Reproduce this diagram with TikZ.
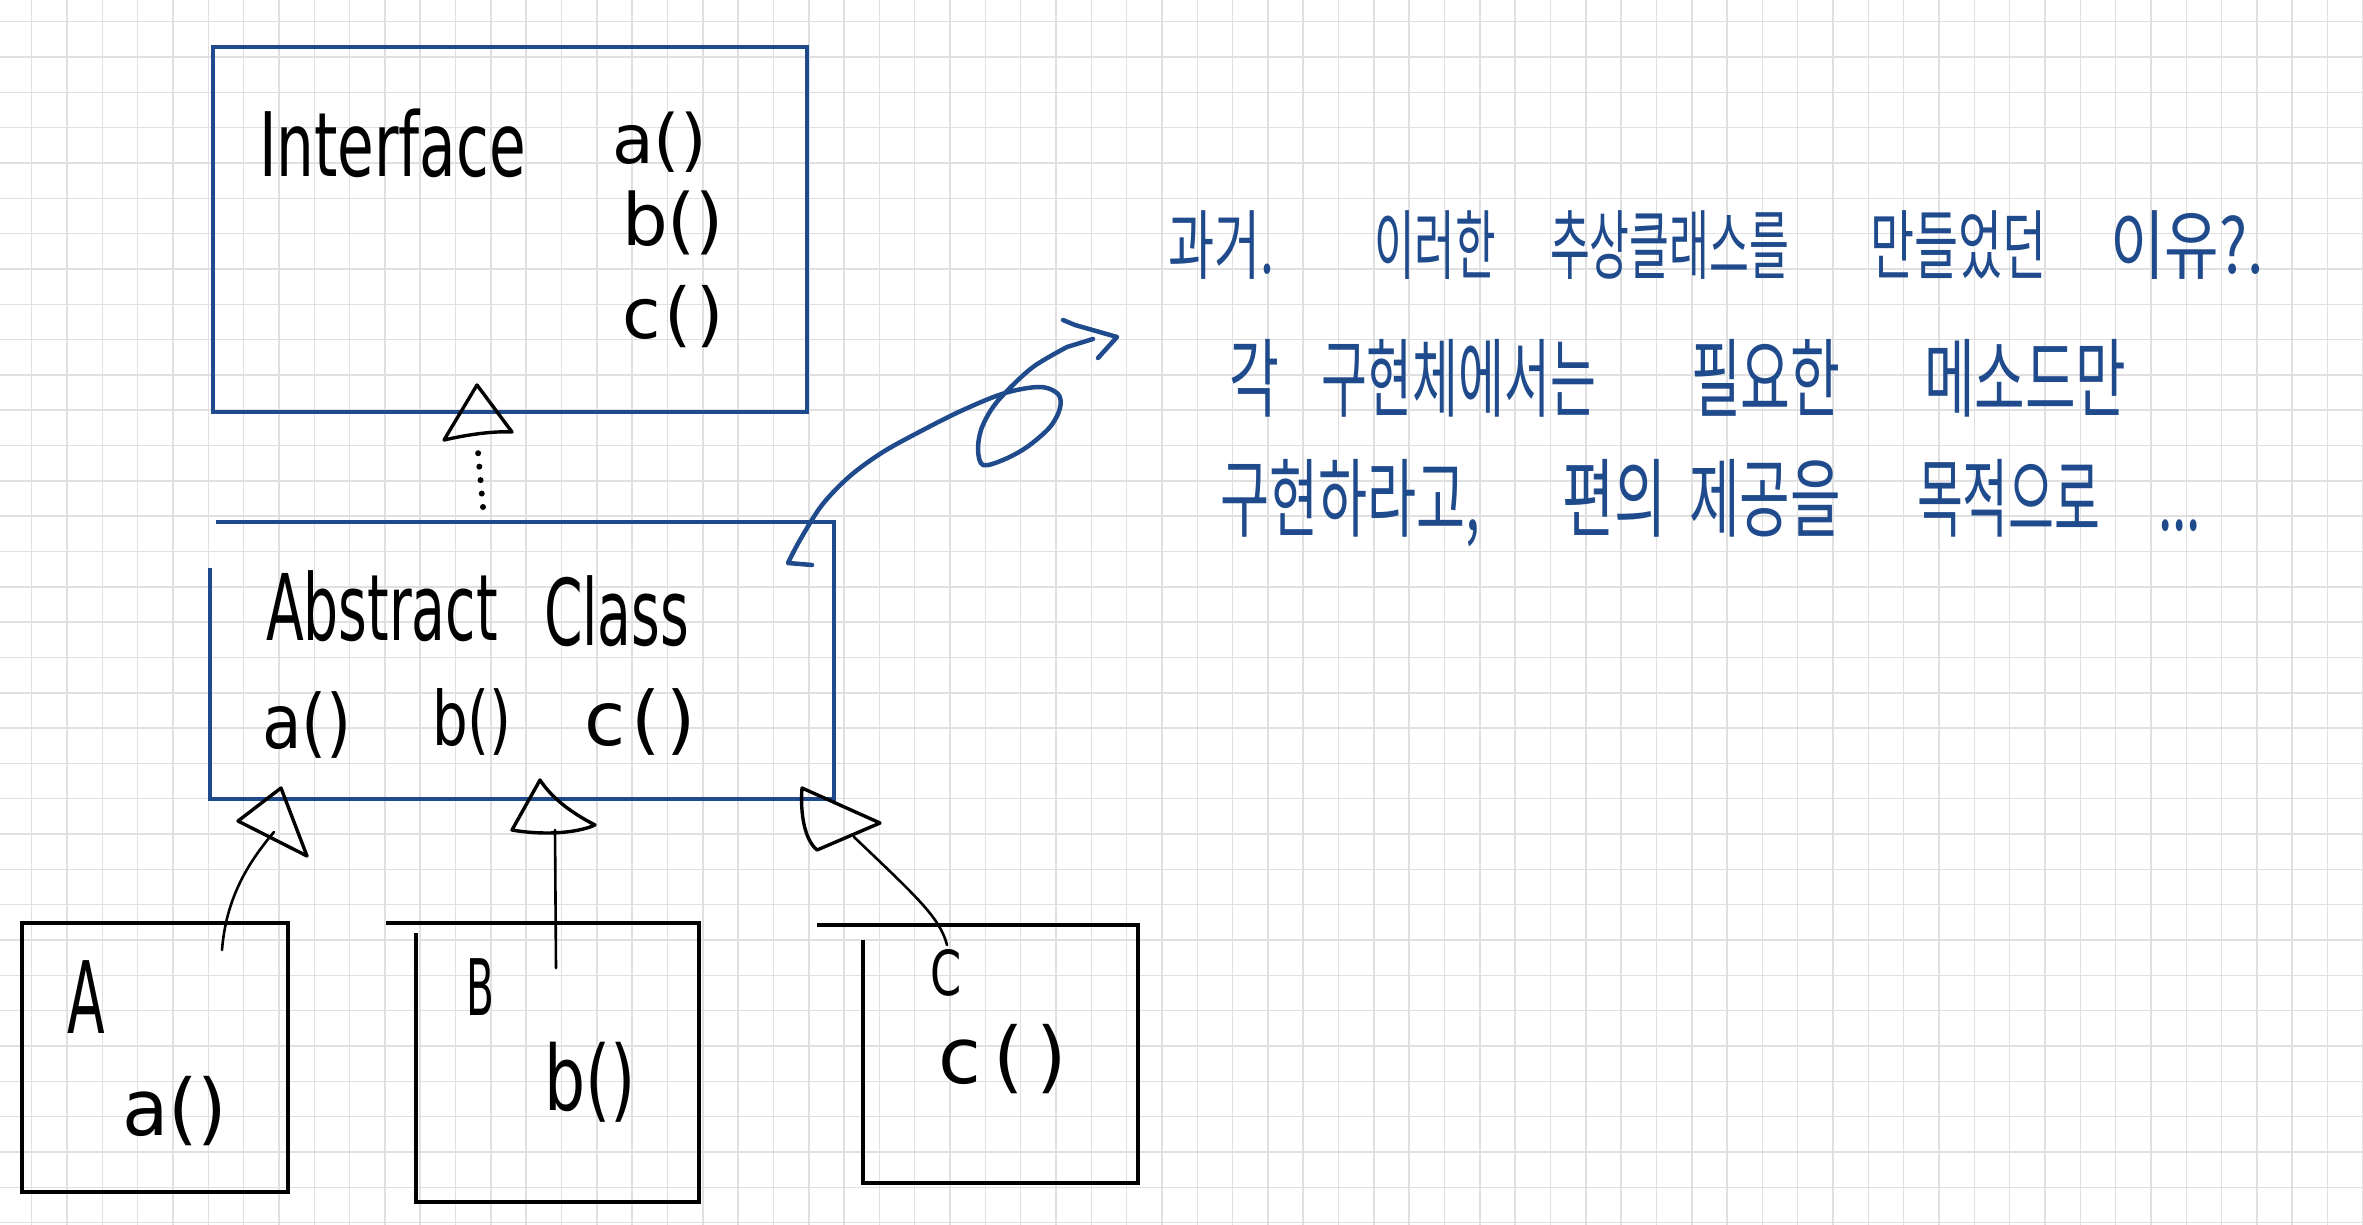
\documentclass[tikz,border=0pt]{standalone}
\usepackage{fontspec}
\setmainfont{DejaVu Sans}
\newfontfamily\kr{Noto Sans CJK KR}
\usepackage{graphicx}
\usetikzlibrary{calc}
\definecolor{penblue}{RGB}{31,74,140}
\newcommand{\hsq}[2]{\scalebox{#1}[1]{#2}}
\begin{document}
\begin{tikzpicture}[x=1pt,y=-1pt,
  gridline/.style={draw=black!12, line width=1.5pt},
  frame/.style={inner sep=0pt, outer sep=0pt},
  bluebox/.style={draw=penblue, line width=4.5pt, line join=miter},
  blackbox/.style={draw=black, line width=4pt, line join=miter},
  bluepen/.style={draw=penblue, line width=4.5pt, line cap=round, line join=round},
  link/.style={draw=black, line width=2.6pt, line cap=round, line join=round},
  head/.style={draw=black, line width=3.4pt, line cap=round, line join=round},
  dotline/.style={draw=black, line width=6pt, line cap=round, dash pattern=on 0pt off 13.5pt},
  lbl/.style={anchor=base west, inner sep=0pt, outer sep=0pt, text=black},
  krA/.style={anchor=base west, inner sep=0pt, outer sep=0pt, text=penblue, font=\kr\fontsize{76pt}{78pt}\selectfont},
  krB/.style={anchor=base west, inner sep=0pt, outer sep=0pt, text=penblue, font=\kr\fontsize{86pt}{88pt}\selectfont},
]
% page
\fill[white] (0,0) rectangle (2363,1225);
\useasboundingbox (0,0) rectangle (2363,1225);
% grid paper
\foreach \i [evaluate=\i as \gx using 31.7+35.32*\i] in {0,...,66}
  \draw[gridline] (\gx,0) -- (\gx,1225);
\foreach \j [evaluate=\j as \gy using 21.7+35.32*\j] in {0,...,34}
  \draw[gridline] (0,\gy) -- (2363,\gy);

% ---------- boxes (frames) ----------
\node[frame, minimum width=594pt, minimum height=365pt] (iface) at (510,229.5) {};
\node[frame, minimum width=624pt, minimum height=277pt] (abs) at (522,660.5) {};
\node[frame, minimum width=266pt, minimum height=269pt] (boxA) at (155,1057.5) {};
\node[frame, minimum width=283pt, minimum height=279pt] (boxB) at (557.5,1062.5) {};
\node[frame, minimum width=275pt, minimum height=258pt] (boxC) at (1000.5,1054) {};

\draw[bluebox] (iface.north west) rectangle (iface.south east);
\draw[bluebox] ($(abs.north west)+(6,0)$) -- (abs.north east) -- (abs.south east)
  -- (abs.south west) -- ($(abs.north west)+(0,46)$);
\draw[blackbox] (boxA.north west) rectangle (boxA.south east);
\draw[blackbox] ($(boxB.north west)+(-30,0)$) -- (boxB.north east) -- (boxB.south east)
  -- (boxB.south west) -- ($(boxB.north west)+(0,10)$);
\draw[blackbox] ($(boxC.north west)+(-46,0)$) -- (boxC.north east) -- (boxC.south east)
  -- (boxC.south west) -- ($(boxC.north west)+(0,15)$);

% ---------- texts ----------
\node[lbl, font=\fontsize{89pt}{90pt}\selectfont] (tIface) at (259,177) {\hsq{0.67}{Interface}};
\node[lbl, font=\fontsize{68pt}{68pt}\selectfont] (tIa) at (612,164) {a()};
\node[lbl, font=\fontsize{72pt}{72pt}\selectfont] (tIb) at (622,245) {b()};
\node[lbl, font=\fontsize{70pt}{70pt}\selectfont] (tIc) at (622,338) {c\kern0.06em(\kern0.06em)};

\node[lbl, font=\fontsize{92pt}{92pt}\selectfont] (tAbs) at (266,640) {\hsq{0.6}{Abstract}};
\node[lbl, font=\fontsize{92pt}{92pt}\selectfont] (tCls) at (544,645) {\hsq{0.6}{Class}};
\node[lbl, font=\fontsize{75pt}{75pt}\selectfont] (tAa) at (262,748) {\hsq{0.86}{a()}};
\node[lbl, font=\fontsize{75pt}{75pt}\selectfont] (tAb) at (432,745) {\hsq{0.75}{b()}};
\node[lbl, font=\fontsize{75pt}{75pt}\selectfont] (tAc) at (584,745) {c\kern0.08em(\kern0.08em)};

\node[lbl, font=\fontsize{100pt}{100pt}\selectfont] (tA) at (67,1033) {\hsq{0.55}{A}};
\node[lbl, font=\fontsize{78pt}{78pt}\selectfont] (tAm) at (122,1135) {\hsq{0.97}{a()}};
\node[lbl, font=\fontsize{78pt}{78pt}\selectfont] (tB) at (466,1015) {\hsq{0.52}{B}};
\node[lbl, font=\fontsize{90pt}{90pt}\selectfont] (tBm) at (544,1110) {\hsq{0.72}{b()}};
\node[lbl, font=\fontsize{62pt}{62pt}\selectfont] (tC) at (930,995) {\hsq{0.72}{C}};
\node[lbl, font=\fontsize{78pt}{78pt}\selectfont] (tCm) at (938,1083) {c\kern0.16em(\kern0.16em)};

% Korean notes
\node[krA] (k11) at (1168,273) {\hsq{0.66}{과거.}};
\node[krA] (k12) at (1374,273) {\hsq{0.58}{이러한}};
\node[krA] (k13) at (1550,273) {\hsq{0.57}{추상클래스를}};
\node[krA] (k14) at (1870,273) {\hsq{0.63}{만들었던}};
\node[krA] (k15) at (2110,273) {\hsq{0.78}{이유?.}};

\node[krB] (k21) at (1229,410) {\hsq{0.63}{각}};
\node[krB] (k22) at (1321,410) {\hsq{0.58}{구현체에서는}};
\node[krB] (k23) at (1691,410) {\hsq{0.63}{필요한}};
\node[krB] (k24) at (1924,410) {\hsq{0.64}{메소드만}};

\node[krB] (k31) at (1220,530) {\hsq{0.62}{구현하라고,}};
\node[krB] (k32) at (1562,530) {\hsq{0.66}{편의}};
\node[krB] (k33) at (1689,530) {\hsq{0.64}{제공을}};
\node[krB] (k34) at (1917,530) {\hsq{0.58}{목적으로}};
\node[krB] (k35) at (2158,530) {\hsq{0.60}{...}};

% ---------- connectors ----------
% Abstract class ..> Interface (realization)
\coordinate (absTop) at (483,507);
\coordinate (ifTri) at (478,452);
\draw[dotline] (absTop) -- (ifTri);
\draw[head] (477,385) -- (444,440) .. controls (470,434) and (495,431) .. (512,432) -- cycle;

% A -> Abstract
\coordinate (aStart) at (222,950);
\coordinate (aEnd) at (274,832);
\draw[link] (aStart) .. controls (226,900) and (246,865) .. (aEnd);
\draw[head] (281,788) -- (238,821) -- (307,856) -- cycle;

% B -> Abstract
\coordinate (bStart) at (556,968);
\coordinate (bEnd) at (555,830);
\draw[link] (bStart) -- (bEnd);
\draw[head] (540,780) -- (512,830) .. controls (540,835) and (575,834) .. (595,825)
  .. controls (570,812) and (552,798) .. cycle;

% C -> Abstract
\coordinate (cStart) at (947,945);
\coordinate (cEnd) at (854,837);
\draw[link] (cStart) .. controls (940,918) and (918,898) .. (cEnd);
\draw[head] (802,788) .. controls (800,815) and (805,840) .. (817,850) -- (880,823) -- cycle;

% blue note arrow from Abstract class to the text
\coordinate (nStart) at (812,565);
\coordinate (nEnd) at (1093,339);
\draw[bluepen] (nStart) -- plot[smooth, tension=0.55] coordinates {
  (788,563) (800,540) (822,505) (850,476) (883,452) (923,430) (963,410)
  (1005,393) (1040,387) (1058,394) (1060,408) (1050,427) (1027,447) (1003,460)
  (983,465) (978,450) (981,430) (991,410) (1005,393) (1033,367) (1067,347) } -- (nEnd);
\draw[bluepen] (1063,320) -- (1075,325) -- (1117,337) -- (1098,358);
\end{tikzpicture}
\end{document}
